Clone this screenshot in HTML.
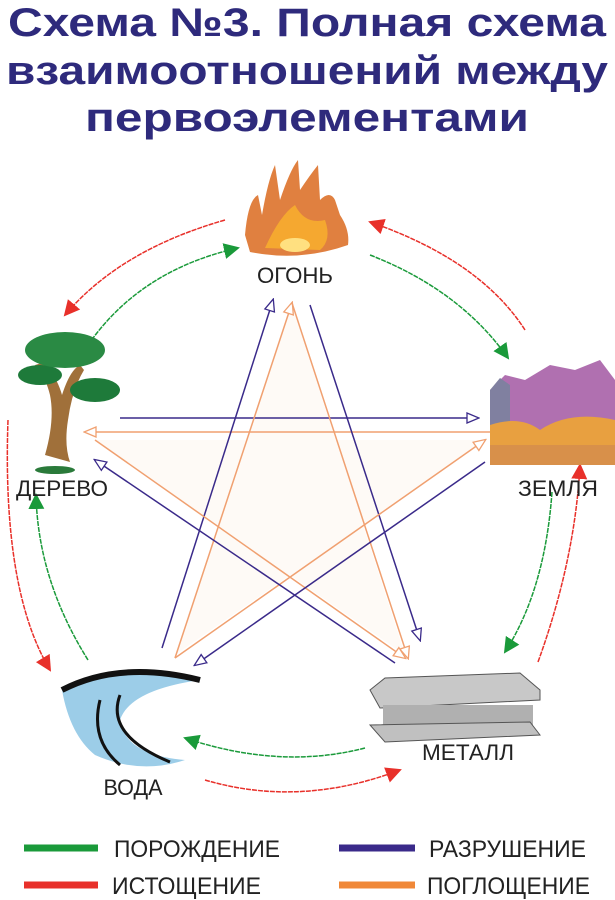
<!DOCTYPE html>
<html><head><meta charset="utf-8"><style>
html,body{margin:0;padding:0;background:#fff;}
svg{display:block}
text{font-family:"Liberation Sans",sans-serif}
</style></head><body>
<svg width="615" height="900" viewBox="0 0 615 900" xmlns="http://www.w3.org/2000/svg">
<defs>
<marker id="g" markerWidth="18" markerHeight="18" refX="14" refY="9" orient="auto" markerUnits="userSpaceOnUse" viewBox="0 0 18 18"><path d="M0,1 L16,9 L0,17z" fill="#1a9a3a"/></marker>
<marker id="r" markerWidth="18" markerHeight="18" refX="14" refY="9" orient="auto" markerUnits="userSpaceOnUse" viewBox="0 0 18 18"><path d="M0,1 L16,9 L0,17z" fill="#e8302a"/></marker>
<marker id="p" markerWidth="14" markerHeight="14" refX="12" refY="7" orient="auto" markerUnits="userSpaceOnUse"><path d="M1,2 L13,7 L1,12z" fill="#fff" stroke="#3a2a8a" stroke-width="1.3"/></marker>
<marker id="o" markerWidth="14" markerHeight="14" refX="12" refY="7" orient="auto" markerUnits="userSpaceOnUse"><path d="M1,2 L13,7 L1,12z" fill="#fff" stroke="#f0a070" stroke-width="1.3"/></marker>
</defs>
<g font-weight="bold" font-size="40" fill="#2e2a7c" text-anchor="middle">
<text x="307" y="36" textLength="598" lengthAdjust="spacingAndGlyphs">Схема №3. Полная схема</text>
<text x="307" y="84" textLength="602" lengthAdjust="spacingAndGlyphs">взаимоотношений между</text>
<text x="307" y="131" textLength="444" lengthAdjust="spacingAndGlyphs">первоэлементами</text>
</g>
<polygon points="292,305 175,655 485,440 95,440 405,655" fill="#fdf6f0" opacity="0.6"/>
<g fill="none" stroke-width="1.5">
<line x1="120" y1="418" x2="478" y2="418" stroke="#3a2a8a" marker-end="url(#p)"/>
<line x1="490" y1="432" x2="85" y2="432" stroke="#f0a070" marker-end="url(#o)"/>
<line x1="310" y1="305" x2="420" y2="640" stroke="#3a2a8a" marker-end="url(#p)"/>
<line x1="162" y1="648" x2="273" y2="300" stroke="#3a2a8a" marker-end="url(#p)"/>
<line x1="175" y1="658" x2="292" y2="303" stroke="#f0a070" marker-end="url(#o)"/>
<line x1="292" y1="303" x2="408" y2="658" stroke="#f0a070" marker-end="url(#o)"/>
<line x1="95" y1="440" x2="405" y2="658" stroke="#f0a070" marker-end="url(#o)"/>
<line x1="175" y1="658" x2="485" y2="440" stroke="#f0a070" marker-end="url(#o)"/>
<line x1="485" y1="462" x2="195" y2="665" stroke="#3a2a8a" marker-end="url(#p)"/>
<line x1="395" y1="663" x2="95" y2="460" stroke="#3a2a8a" marker-end="url(#p)"/>
</g>
<g fill="none" stroke-width="1.5" stroke-dasharray="5,1">
<path d="M225,220 Q120,250 65,315" stroke="#e8302a" marker-end="url(#r)"/>
<path d="M88,345 Q140,270 238,248" stroke="#1a9a3a" marker-end="url(#g)"/>
<path d="M370,255 Q460,290 508,358" stroke="#1a9a3a" marker-end="url(#g)"/>
<path d="M525,330 Q480,260 370,222" stroke="#e8302a" marker-end="url(#r)"/>
<path d="M552,492 Q545,590 505,652" stroke="#1a9a3a" marker-end="url(#g)"/>
<path d="M538,662 Q575,560 580,465" stroke="#e8302a" marker-end="url(#r)"/>
<path d="M365,748 Q280,770 185,738" stroke="#1a9a3a" marker-end="url(#g)"/>
<path d="M205,780 Q300,808 400,770" stroke="#e8302a" marker-end="url(#r)"/>
<path d="M8,420 Q2,590 50,670" stroke="#e8302a" marker-end="url(#r)"/>
<path d="M88,660 Q38,580 36,495" stroke="#1a9a3a" marker-end="url(#g)"/>
</g>
<g>
<path d="M245,235 Q248,200 258,195 L262,215 Q268,180 275,165 L280,200 Q290,170 298,160 L300,190 Q310,175 318,165 L320,200 Q330,190 335,200 L340,215 Q350,230 348,245 Q300,262 250,252z" fill="#e08040"/>
<path d="M265,248 Q280,215 295,205 Q305,225 325,220 Q332,240 320,250z" fill="#f5a830"/>
<ellipse cx="295" cy="245" rx="15" ry="7" fill="#ffe080"/>
</g>
<g>
<path d="M45,455 Q55,420 50,395 Q45,375 35,365 L45,362 Q58,380 62,395 Q70,370 80,365 L84,370 Q72,390 68,420 Q64,445 70,462z" fill="#a0703a"/>
<ellipse cx="40" cy="375" rx="22" ry="10" fill="#1e7a3a"/>
<ellipse cx="65" cy="350" rx="40" ry="18" fill="#2a8a44"/>
<ellipse cx="95" cy="390" rx="25" ry="12" fill="#1e7a3a"/>
<ellipse cx="55" cy="470" rx="20" ry="4" fill="#2a7a3a"/>
</g>
<g>
<path d="M490,390 L505,375 L525,380 L550,365 L575,370 L600,360 L615,380 L615,465 L490,465z" fill="#b070b0"/>
<path d="M490,390 L500,378 L510,385 L510,430 L490,430z" fill="#8080a0"/>
<path d="M490,425 Q520,415 540,430 Q570,410 615,420 L615,445 L490,445z" fill="#e8a040"/>
<rect x="490" y="445" width="125" height="20" fill="#d8904a"/>
</g>
<g>
<path d="M62,690 Q120,660 200,680 Q130,690 120,720 Q125,755 185,760 Q140,775 95,755 Q70,735 62,690z" fill="#9ccde8"/>
<path d="M62,690 Q120,660 200,680" stroke="#111" stroke-width="6" fill="none"/>
<path d="M100,700 Q90,740 120,765" stroke="#111" stroke-width="3" fill="none"/>
<path d="M120,695 Q105,735 170,762" stroke="#111" stroke-width="3" fill="none"/>
</g>
<g>
<path d="M370,690 L385,678 L520,673 L540,690 L540,700 L380,708z" fill="#c8c8c8" stroke="#555"/>
<rect x="383" y="705" width="150" height="20" fill="#b0b0b0"/>
<path d="M370,725 L530,722 L540,735 L385,742z" fill="#c0c0c0" stroke="#555"/>
</g>
<g font-size="22" fill="#222" text-anchor="middle">
<text x="295" y="283" textLength="76" lengthAdjust="spacingAndGlyphs">ОГОНЬ</text>
<text x="62" y="496" textLength="92" lengthAdjust="spacingAndGlyphs">ДЕРЕВО</text>
<text x="558" y="496" textLength="80" lengthAdjust="spacingAndGlyphs">ЗЕМЛЯ</text>
<text x="133" y="795" textLength="59" lengthAdjust="spacingAndGlyphs">ВОДА</text>
<text x="468" y="760" textLength="92" lengthAdjust="spacingAndGlyphs">МЕТАЛЛ</text>
</g>
<g stroke-width="7">
<line x1="24" y1="848" x2="98" y2="848" stroke="#1a9a3a"/>
<line x1="24" y1="885" x2="98" y2="885" stroke="#e8302a"/>
<line x1="339" y1="848" x2="415" y2="848" stroke="#3a2a8a"/>
<line x1="339" y1="885" x2="415" y2="885" stroke="#f08838"/>
</g>
<g font-size="24" fill="#222">
<text x="114" y="857" textLength="166" lengthAdjust="spacingAndGlyphs">ПОРОЖДЕНИЕ</text>
<text x="112" y="894" textLength="149" lengthAdjust="spacingAndGlyphs">ИСТОЩЕНИЕ</text>
<text x="429" y="857" textLength="157" lengthAdjust="spacingAndGlyphs">РАЗРУШЕНИЕ</text>
<text x="427" y="894" textLength="163" lengthAdjust="spacingAndGlyphs">ПОГЛОЩЕНИЕ</text>
</g>
</svg>
</body></html>
